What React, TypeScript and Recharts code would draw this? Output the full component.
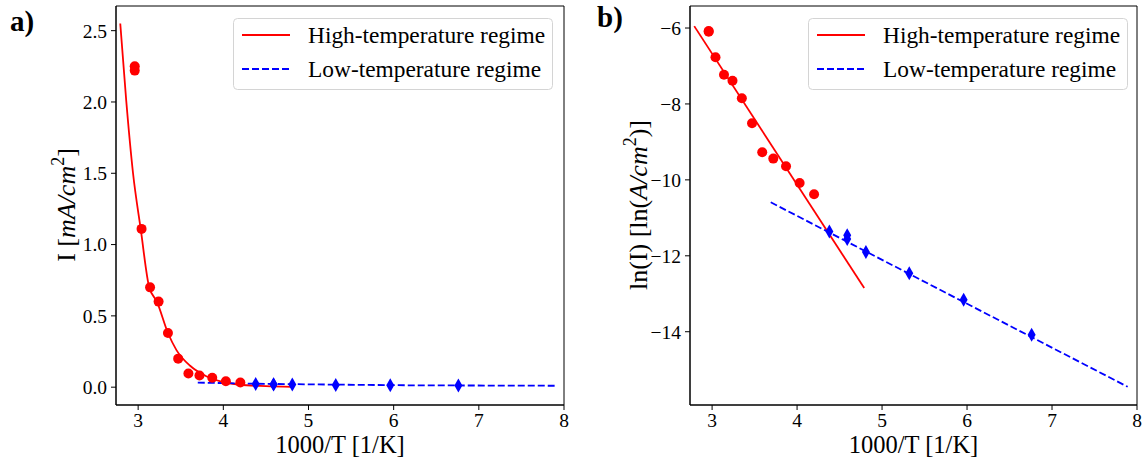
import { ComposedChart, Scatter, Line, XAxis, YAxis, Legend, ReferenceArea } from 'recharts';

// measured points, x = 1000/T [1/K]
const hotX = [2.96, 2.96, 3.04, 3.14, 3.24, 3.35, 3.47, 3.59, 3.72, 3.87, 4.03, 4.2];
const hotI = [2.25, 2.22, 1.11, 0.7, 0.6, 0.38, 0.2, 0.096, 0.082, 0.066, 0.042, 0.033]; // mA/cm2
const hotLnI = [-6.08, -6.1, -6.77, -7.23, -7.39, -7.85, -8.51, -9.27, -9.44, -9.64, -10.08, -10.38];

const coldX = [4.38, 4.59, 4.59, 4.81, 5.32, 5.96, 6.76];
const coldI = [0.022, 0.021, 0.019, 0.019, 0.016, 0.013, 0.012];
const coldLnI = [-11.36, -11.46, -11.56, -11.9, -12.46, -13.16, -14.08];

// fitted curves
const hotFitX = [2.79, 2.86, 2.94, 3.03, 3.13, 3.22, 3.35, 3.45, 3.61, 3.8, 4.04, 4.19, 4.5, 4.8];
const hotFitI = [2.55, 2.01, 1.5, 1.11, 0.7, 0.6, 0.38, 0.26, 0.15, 0.077, 0.031, 0.017, 0.007, 0.002];
const coldFitX = [3.7, 4.4, 5.3, 6.2, 7.89];
const coldFitI = [0.032, 0.024, 0.018, 0.013, 0.01];

const hotLnFitX = [2.79, 4.79];
const hotLnFitY = [-5.95, -12.85];
const coldLnFitX = [3.69, 7.89];
const coldLnFitY = [-10.59, -15.45];

const xTicks = [3, 4, 5, 6, 7, 8];
const iTicks = [0, 0.5, 1, 1.5, 2, 2.5];
const lnTicks = [-14, -12, -10, -8, -6];

const xDomain: [number, number] = [2.74, 8];
const iDomain: [number, number] = [-0.125, 2.673];
const lnDomain: [number, number] = [-15.93, -5.42];

const RED = '#ff0000';
const BLUE = '#0000ff';
const FONT = '"Liberation Serif", "Times New Roman", serif';

const zip = (xs: number[], ys: number[]) => xs.map((x, i) => ({ x, y: ys[i] }));

function Dot(props: any) {
  const { cx, cy } = props;
  if (cx == null || cy == null) return null;
  return <circle cx={cx} cy={cy} r={5} fill={RED} />;
}

function Diamond(props: any) {
  const { cx, cy } = props;
  if (cx == null || cy == null) return null;
  return (
    <polygon
      points={`${cx},${cy - 7} ${cx + 4},${cy} ${cx},${cy + 7} ${cx - 4},${cy}`}
      fill={BLUE}
    />
  );
}

function FitLegend() {
  return (
    <svg width={322} height={73} style={{ display: 'block' }}>
      <rect x={0.5} y={0.5} width={319} height={71} rx={4} fill="rgba(255,255,255,0.8)" stroke="#d4d4d4" />
      <line x1={9} x2={57} y1={17} y2={17} stroke={RED} strokeWidth={1.8} />
      <line x1={9} x2={57} y1={51} y2={51} stroke={BLUE} strokeWidth={1.8} strokeDasharray="7 3" />
      <text x={75} y={25} fontSize={23.4} fontFamily={FONT} fill="#000">High-temperature regime</text>
      <text x={75} y={59} fontSize={23.4} fontFamily={FONT} fill="#000">Low-temperature regime</text>
    </svg>
  );
}

// rotated y-axis title, (ax, ay) = baseline centre in page pixels
function YTitle({ ax, ay, kind }: { ax: number; ay: number; kind: 'lin' | 'ln' }) {
  return (
    <text
      x={ax}
      y={ay}
      transform={`rotate(-90, ${ax}, ${ay})`}
      textAnchor="middle"
      fontSize={26}
      fontFamily={FONT}
      fill="#000"
    >
      {kind === 'lin' ? (
        <>
          <tspan>I [</tspan>
          <tspan fontStyle="italic">mA/cm</tspan>
          <tspan dy={-11} fontSize={18}>2</tspan>
          <tspan dy={11}>]</tspan>
        </>
      ) : (
        <>
          <tspan>ln(I) [ln(</tspan>
          <tspan fontStyle="italic">A/cm</tspan>
          <tspan dy={-11} fontSize={18}>2</tspan>
          <tspan dy={11}>)]</tspan>
        </>
      )}
    </text>
  );
}

const tickStyle = { fill: '#000', fontSize: 19.5, fontFamily: FONT };
const xLabel = { value: '1000/T [1/K]', position: 'insideBottom' as const, offset: 6, fill: '#000', fontSize: 24.5, fontFamily: FONT };

export default function App() {
  return (
    <div style={{ position: 'absolute', left: 0, top: 0, width: 1146, height: 459, background: '#fff', fontFamily: FONT }}>
      {/* a) linear current */}
      <div style={{ position: 'absolute', left: 0, top: 0 }}>
        <ComposedChart width={580} height={459} margin={{ top: 6, right: 16, bottom: 0, left: 0 }}>
          <XAxis
            dataKey="x"
            type="number"
            domain={xDomain}
            ticks={xTicks}
            allowDataOverflow
            height={54}
            tickSize={5}
            tickMargin={3}
            tick={tickStyle}
            stroke="#000"
            label={xLabel}
          />
          <YAxis
            dataKey="y"
            type="number"
            domain={iDomain}
            ticks={iTicks}
            allowDataOverflow
            width={116}
            tickSize={5}
            tickMargin={4}
            tick={tickStyle}
            tickFormatter={(v: number) => v.toFixed(1)}
            stroke="#000"
          />
          {/* axes box */}
          <ReferenceArea x1={xDomain[0]} x2={xDomain[1]} y1={iDomain[0]} y2={iDomain[1]} fill="none" stroke="#000" strokeWidth={1} />
          <Scatter data={zip(hotX, hotI)} dataKey="y" shape={<Dot />} isAnimationActive={false} legendType="none" />
          <Scatter data={zip(coldX, coldI)} dataKey="y" shape={<Diamond />} isAnimationActive={false} legendType="none" />
          <Line data={zip(hotFitX, hotFitI)} dataKey="y" type="monotone" stroke={RED} strokeWidth={1.8} dot={false} activeDot={false} isAnimationActive={false} />
          <Line data={zip(coldFitX, coldFitI)} dataKey="y" type="linear" stroke={BLUE} strokeWidth={1.8} strokeDasharray="7 3" dot={false} activeDot={false} isAnimationActive={false} />
          <Legend
            layout="horizontal"
            verticalAlign="middle"
            align="center"
            content={<FitLegend />}
            wrapperStyle={{ left: 233, top: 18, width: 322, height: 73 }}
          />
        </ComposedChart>
      </div>

      {/* b) log current */}
      <div style={{ position: 'absolute', left: 580, top: 0 }}>
        <ComposedChart width={566} height={459} margin={{ top: 6, right: 9, bottom: 0, left: 0 }}>
          <XAxis
            dataKey="x"
            type="number"
            domain={xDomain}
            ticks={xTicks}
            allowDataOverflow
            height={54}
            tickSize={5}
            tickMargin={3}
            tick={tickStyle}
            stroke="#000"
            label={xLabel}
          />
          <YAxis
            dataKey="y"
            type="number"
            domain={lnDomain}
            ticks={lnTicks}
            allowDataOverflow
            width={110}
            tickSize={5}
            tickMargin={4}
            tick={tickStyle}
            tickFormatter={(v: number) => String(v).replace('-', '\u2212')}
            stroke="#000"
          />
          <ReferenceArea x1={xDomain[0]} x2={xDomain[1]} y1={lnDomain[0]} y2={lnDomain[1]} fill="none" stroke="#000" strokeWidth={1} />
          <Scatter data={zip(hotX, hotLnI)} dataKey="y" shape={<Dot />} isAnimationActive={false} legendType="none" />
          <Scatter data={zip(coldX, coldLnI)} dataKey="y" shape={<Diamond />} isAnimationActive={false} legendType="none" />
          <Line data={zip(hotLnFitX, hotLnFitY)} dataKey="y" type="linear" stroke={RED} strokeWidth={1.8} dot={false} activeDot={false} isAnimationActive={false} />
          <Line data={zip(coldLnFitX, coldLnFitY)} dataKey="y" type="linear" stroke={BLUE} strokeWidth={1.8} strokeDasharray="7 3" dot={false} activeDot={false} isAnimationActive={false} />
          <Legend
            layout="horizontal"
            verticalAlign="middle"
            align="center"
            content={<FitLegend />}
            wrapperStyle={{ left: 228, top: 18, width: 322, height: 73 }}
          />
        </ComposedChart>
      </div>

      {/* axis titles and panel letters */}
      <svg width={1146} height={459} style={{ position: 'absolute', left: 0, top: 0, pointerEvents: 'none' }}>
        <YTitle ax={75} ay={205} kind="lin" />
        <YTitle ax={647} ay={205} kind="ln" />
        <text x={10} y={31} fontSize={29} fontWeight="bold" fontFamily={FONT} fill="#000">a)</text>
        <text x={597} y={27} fontSize={29} fontWeight="bold" fontFamily={FONT} fill="#000">b)</text>
      </svg>
    </div>
  );
}
